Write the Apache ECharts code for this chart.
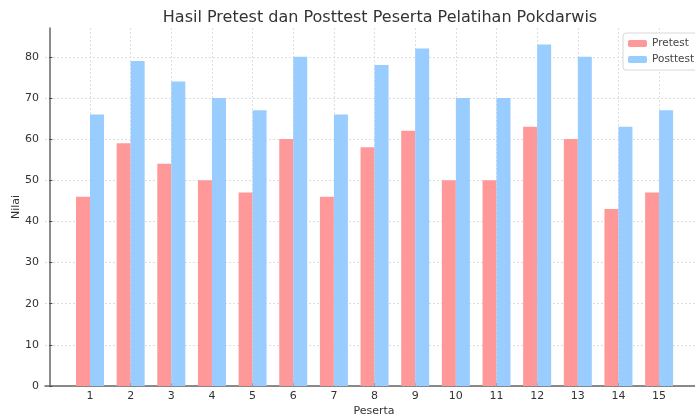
<!DOCTYPE html>
<html>
<head>
<meta charset="UTF-8">
<title>Hasil Pretest dan Posttest</title>
<style type="text/css">
   html, body{
      margin:0;
      padding:0;
      background-color:#ffffff;
   }
   #container{
      width:695px;
      height:417px;
   }
</style>
</head>
<body>
<div id="container"></div>
<script src="https://cdn.jsdelivr.net/npm/echarts@6/dist/echarts.min.js"></script>
<script type="text/javascript">
var peserta = [1, 2, 3, 4, 5, 6, 7, 8, 9, 10, 11, 12, 13, 14, 15];
var pretest = [46, 59, 54, 50, 47, 60, 46, 58, 62, 50, 50, 63, 60, 43, 47];
var posttest = [66, 79, 74, 70, 67, 80, 66, 78, 82, 70, 70, 83, 80, 63, 67];
var yTicks = [0, 10, 20, 30, 40, 50, 60, 70, 80];

var fontName = 'DejaVu Sans';

function pairs(vals){
    var out = [];
    for(var i=0;i<peserta.length;i++){
        out.push([peserta[i], vals[i]]);
    }
    return out;
}

var dom = document.getElementById("container");
var myChart = echarts.init(dom);

var option = {
    animation: false,
    textStyle: { fontFamily: fontName },
    title: {
        text: 'Hasil Pretest dan Posttest Peserta Pelatihan Pokdarwis',
        left: 375,
        top: 5,
        textAlign: 'center',
        textStyle: { fontFamily: fontName, fontSize: 16, fontWeight: 'normal', color: '#333' }
    },
    legend: {
        orient: 'vertical',
        left: 623,
        top: 33,
        itemWidth: 19,
        itemHeight: 7,
        itemGap: 5,
        padding: [5, 12, 5, 5],
        borderColor: '#d8d8d8',
        borderWidth: 1,
        borderRadius: 3,
        backgroundColor: '#ffffff',
        align: 'left',
        textStyle: { fontFamily: fontName, fontSize: 10.5, color: '#444' },
        data: ['Pretest', 'Posttest']
    },
    grid: {
        left: 45,
        right: -8,
        top: 28,
        bottom: 31,
        containLabel: false,
        outerBoundsMode: 'none'
    },
    xAxis: {
        type: 'value',
        min: -0.107,
        max: 16.08,
        name: 'Peserta',
        nameLocation: 'middle',
        nameGap: 20,
        nameMoveOverlap: false,
        nameTextStyle: { fontFamily: fontName, fontSize: 11, color: '#333' },
        axisLine: { show: true, lineStyle: { color: '#666', width: 1.5 } },
        axisTick: { show: true, inside: true, length: 3, customValues: peserta, lineStyle: { color: '#444' } },
        axisLabel: { customValues: peserta, fontSize: 11, color: '#333', margin: 5 },
        splitLine: { show: true, lineStyle: { color: '#dedede', type: [2, 2] } }
    },
    yAxis: {
        type: 'value',
        min: 0,
        max: 87,
        interval: 10,
        name: 'Nilai',
        nameLocation: 'middle',
        nameGap: 23,
        nameMoveOverlap: false,
        nameTextStyle: { fontFamily: fontName, fontSize: 11, color: '#333' },
        axisLine: { show: true, lineStyle: { color: '#666', width: 1.5 } },
        axisTick: { show: true, inside: true, length: 3, customValues: yTicks, lineStyle: { color: '#444' } },
        axisLabel: { customValues: yTicks, fontSize: 11, color: '#333', margin: 6 },
        splitLine: { show: true, lineStyle: { color: '#dedede', type: [2, 2] } }
    },
    series: [
        {
            name: 'Pretest',
            type: 'bar',
            barWidth: 14,
            barGap: '0%',
            itemStyle: { color: '#ff9999' },
            data: pairs(pretest)
        },
        {
            name: 'Posttest',
            type: 'bar',
            barWidth: 14,
            barGap: '0%',
            itemStyle: { color: '#99ccff' },
            data: pairs(posttest)
        }
    ]
};
myChart.setOption(option, true);
</script>
</body>
</html>
